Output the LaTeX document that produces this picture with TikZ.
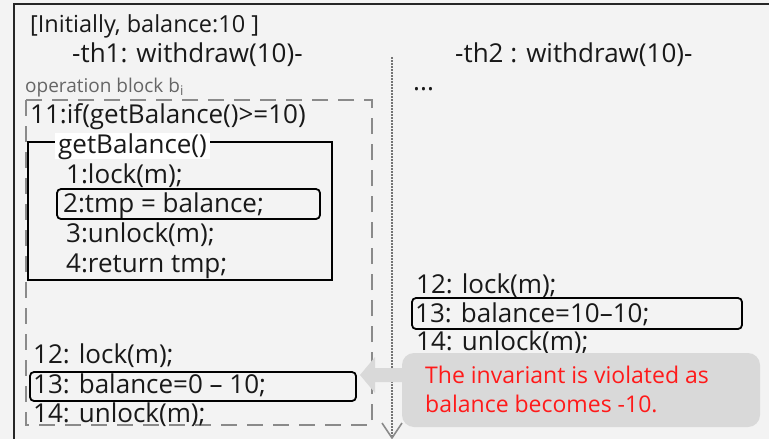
\documentclass[tikz,border=0pt]{standalone}
\usepackage{fontspec}
\setmainfont{Open Sans}
\usetikzlibrary{arrows.meta}
\definecolor{bgc}{HTML}{F3F3F3}
\definecolor{dashc}{HTML}{8A8A8A}
\definecolor{callc}{HTML}{D9D9D9}
\definecolor{redc}{HTML}{FF1A1A}
\tikzset{
  code/.style={inner sep=0pt, anchor=base west, font=\fontsize{26}{30}\selectfont, text=black!90},
  head/.style={inner sep=0pt, anchor=base west, font=\fontsize{23.5}{28}\selectfont, text=black!90},
  small/.style={inner sep=0pt, anchor=base west, font=\fontsize{19}{22}\selectfont, text=black!60},
  hl/.style={draw=black, line width=1.8pt, rounded corners=4pt},
  block/.style={draw=dashc, line width=2.4pt, dash pattern=on 16pt off 10pt},
  frame/.style={draw=black!85, line width=1.6pt},
  redtxt/.style={inner sep=0pt, anchor=base west, font=\fontsize{23}{28}\selectfont, text=redc},
}
\begin{document}
\begin{tikzpicture}[x=1pt,y=-1pt]
\useasboundingbox (0,0) rectangle (769,439);
\fill[bgc] (0,0) rectangle (769,439);
% outer frame
\draw[frame] (769,4) -- (14,4) -- (14,439);
% headings
\node[head] (init) at (30,32) {[Initially, balance:10 ]};
\node[code] (th1) at (72,62) {-th1: withdraw(10)-};
\node[code] (th2) at (455,62) {-th2 : withdraw(10)-};
\node[code] (dots) at (413,90) {...};
\node[small] (opb) at (25,92) {operation block b\textsubscript{i}};
% dashed operation block
\draw[block] (26,100) rectangle (372,425);
\node[code] (l11) at (30,123) {11:if(getBalance()>=10)};
% getBalance box
\draw[draw=black, line width=1.6pt] (28,142) rectangle (332,280);
\node[code, fill=white, inner xsep=3pt, inner ysep=0pt] (gb) at (55,153) {getBalance()};
\node[code] (l1) at (66,183) {1:lock(m);};
\node[code] (l2) at (63,212) {2:tmp = balance;};
\draw[hl] (57,189) rectangle (320,219);
\node[code] (l3) at (66,242) {3:unlock(m);};
\node[code] (l4) at (66,272) {4:return tmp;};
% th1 lines
\node[code] (a12) at (33,363) {12: lock(m);};
\node[code] (a13) at (33,393) {13: balance=0 – 10;};
\draw[hl] (30,372) rectangle (356,401);
\node[code] (a14) at (33,422) {14: unlock(m);};
% th2 lines
\node[code] (b12) at (416,293) {12: lock(m);};
\node[code] (b13) at (415,322) {13: balance=10–10;};
\draw[hl] (412,298) rectangle (742,329);
\node[code] (b14) at (416,350) {14: unlock(m);};
% dotted timeline
\coordinate (tTop) at (392,57);
\coordinate (tBot) at (392,438);
\draw[black!55, line width=2.2pt, dash pattern=on 1.5pt off 1.5pt] (tTop) -- (tBot);
\draw[dashc, line width=1.6pt] (382,423) -- (tBot) -- (402,423);
% callout
\fill[callc, rounded corners=12pt] (402,353) rectangle (760,427);
\fill[callc] (360,375) -- (375,357) -- (375,368) -- (405,368) -- (405,382) -- (375,382) -- (375,393) -- cycle;
\node[redtxt] (r1) at (425,383) {The invariant is violated as};
\node[redtxt] (r2) at (425,412) {balance becomes -10.};
\end{tikzpicture}
\end{document}
